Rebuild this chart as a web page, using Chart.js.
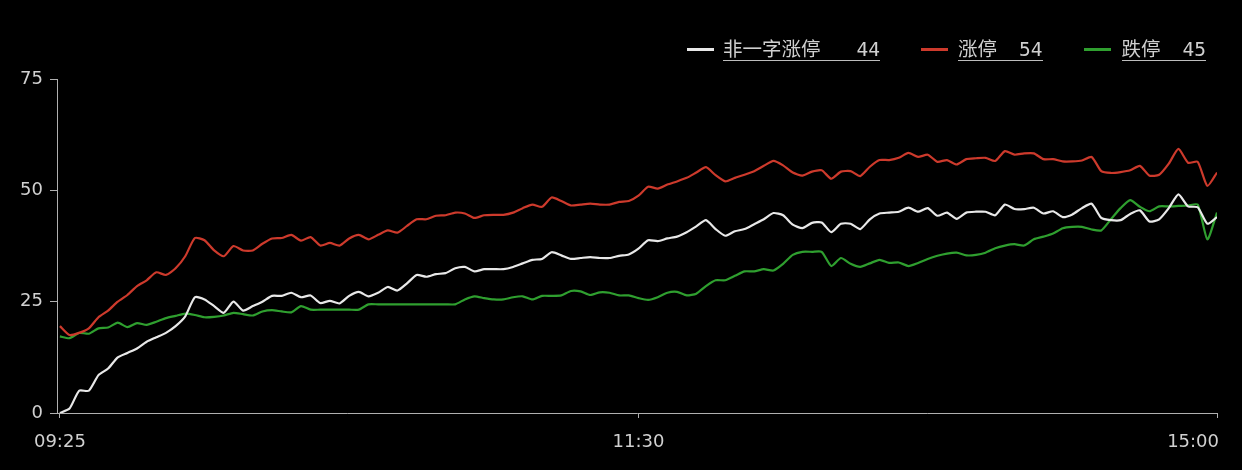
<!DOCTYPE html>
<html>
<head>
<meta charset="utf-8">
<script src="https://cdn.jsdelivr.net/npm/chart.js@4.4.1/dist/chart.umd.min.js"></script>
<style>
html,body{margin:0;padding:0;background:#000;}
#wrap{position:relative;width:1242px;height:470px;background:#000;overflow:hidden;}
#legend{position:absolute;left:687px;top:38px;display:flex;align-items:center;white-space:nowrap;}
.item{display:flex;align-items:center;}
.item:nth-child(1){margin-right:41px;}
.item:nth-child(2){margin-right:41px;}
.swatch{width:27px;height:3px;margin-right:9px;}
.item:nth-child(2) .swatch{margin-right:10px;}
.item:nth-child(3) .swatch{margin-right:11px;}
.txt{font-family:"Noto Sans CJK SC";font-size:19.5px;line-height:20px;color:#cfcfcf;border-bottom:1px solid #bdbdbd;display:flex;align-items:baseline;}
.num{font-family:"DejaVu Sans Mono";font-size:19.5px;margin-left:22px;}
.item:nth-child(1) .num{margin-left:36px;}
</style>
</head>
<body>
<div id="wrap">
  <canvas id="c" width="1242" height="470"></canvas>
  <div id="legend"></div>
</div>
<script>
// ---- data ----
const tickLabels = ['09:25', '11:30', '15:00'];
const tickIndex = [0, 60, 120];
const seriesNames = ['非一字涨停', '涨停', '跌停'];
const seriesColors = ['#e8e8e8', '#cd3a2c', '#2f9f2f'];

const nonYiZi = [
  0, 1, 5, 5, 8.5, 10, 12.5, 13.5, 14.5, 16, 17, 18, 19.5, 21.7, 26, 25.5, 24, 22.5, 25, 23, 24, 25, 26.3, 26.3, 27,
  26, 26.4, 24.7, 25.2, 24.6, 26.3, 27.2, 26.2, 27, 28.3, 27.5, 29.1, 31, 30.6, 31.2, 31.4, 32.5, 32.8, 31.8, 32.3, 32.3, 32.3, 32.8, 33.6, 34.4,
  34.6, 36.1, 35.4, 34.6, 34.8, 35, 34.8, 34.8, 35.3, 35.6, 36.9, 38.8, 38.6, 39.2, 39.6, 40.6, 41.9, 43.3, 41.3, 39.8, 40.8, 41.3, 42.4, 43.5,
  44.9, 44.4, 42.3, 41.5, 42.7, 42.8, 40.6, 42.5, 42.5, 41.3, 43.5, 44.8, 45, 45.2, 46.1, 45.2, 46, 44.3, 45, 43.6, 45, 45.2, 45.2, 44.4, 46.8,
  45.8, 45.8, 46.1, 44.8, 45.3, 44, 44.6, 46, 47, 43.8, 43.3, 43.3, 44.7, 45.5, 43, 43.5, 46, 49.1, 46.4, 46.2, 42.5, 44
];
const limitUp = [
  19.5, 17.5, 18, 19, 21.5, 23, 25, 26.5, 28.5, 29.8, 31.6, 31, 32.5, 35.2, 39.3, 38.8, 36.5, 35.2, 37.5, 36.5, 36.5, 38, 39.2, 39.3, 40,
  38.7, 39.5, 37.6, 38.2, 37.6, 39.2, 40, 39, 40, 41, 40.5, 42, 43.5, 43.5, 44.3, 44.4, 45, 44.8, 43.8, 44.4, 44.5, 44.5, 45, 46, 46.8,
  46.3, 48.4, 47.6, 46.6, 46.8, 47, 46.8, 46.8, 47.4, 47.6, 48.8, 50.8, 50.4, 51.3, 52, 52.8, 54, 55.2, 53.4, 52, 52.8, 53.5, 54.3, 55.5,
  56.6, 55.6, 54, 53.3, 54.2, 54.5, 52.6, 54.2, 54.3, 53.2, 55.3, 56.8, 56.8, 57.3, 58.4, 57.5, 58, 56.4, 56.8, 55.8, 57, 57.2, 57.3, 56.6, 58.8,
  58, 58.3, 58.3, 57, 57, 56.5, 56.5, 56.7, 57.5, 54.3, 53.9, 54.1, 54.5, 55.5, 53.3, 53.5, 56, 59.3, 56.2, 56.4, 51, 54
];
const limitDown = [
  17.2, 16.8, 18, 17.8, 19, 19.2, 20.3, 19.3, 20.2, 19.8, 20.5, 21.3, 21.8, 22.3, 22, 21.5, 21.6, 21.9, 22.5, 22.2, 21.9, 22.8, 23.1, 22.8, 22.6,
  24, 23.2, 23.2, 23.2, 23.2, 23.2, 23.2, 24.4, 24.4, 24.4, 24.4, 24.4, 24.4, 24.4, 24.4, 24.4, 24.4, 25.5, 26.2, 25.8, 25.5, 25.5, 26, 26.2, 25.5,
  26.3, 26.3, 26.4, 27.4, 27.3, 26.5, 27.1, 27, 26.4, 26.4, 25.8, 25.4, 26, 27, 27.2, 26.4, 26.8, 28.5, 29.8, 29.8, 30.8, 31.8, 31.8, 32.3,
  32, 33.5, 35.5, 36.2, 36.2, 36.2, 33, 34.8, 33.5, 32.8, 33.6, 34.4, 33.7, 33.8, 33, 33.7, 34.6, 35.3, 35.8, 36, 35.4, 35.5, 36, 37, 37.6,
  37.9, 37.6, 39, 39.6, 40.3, 41.5, 41.8, 41.8, 41.2, 41, 43.5, 46, 47.8, 46.3, 45.3, 46.4, 46.4, 46.5, 46.6, 46.8, 39, 45
];
const allSeries = [nonYiZi, limitUp, limitDown];

// ---- legend (HTML) ----
const legendEl = document.getElementById('legend');
seriesNames.forEach((name, k) => {
  const vals = allSeries[k];
  const item = document.createElement('div');
  item.className = 'item';
  item.innerHTML = '<div class="swatch" style="background:' + seriesColors[k] + '"></div>' +
    '<span class="txt"><span class="name">' + name + '</span><span class="num">' + vals[vals.length - 1] + '</span></span>';
  legendEl.appendChild(item);
});

// ---- x tick labels plugin ----
const xLabelPlugin = {
  id: 'xLabels',
  afterDraw(chart) {
    const s = chart.scales.x;
    const ctx = chart.ctx;
    ctx.save();
    ctx.font = '18px "DejaVu Sans"';
    ctx.fillStyle = '#d0d0d0';
    ctx.textBaseline = 'alphabetic';
    tickIndex.forEach((v, k) => {
      const px = s.getPixelForValue(v);
      if (k === tickIndex.length - 1) {
        ctx.textAlign = 'right';
        ctx.fillText(tickLabels[k], px + 2, 447);
      } else {
        ctx.textAlign = 'center';
        ctx.fillText(tickLabels[k], px, 447);
      }
    });
    ctx.restore();
  }
};

const axisColor = '#b0b0b0';
new Chart(document.getElementById('c'), {
  type: 'line',
  data: {
    datasets: allSeries.map((vals, k) => ({
      label: seriesNames[k],
      data: vals.map((v, i) => ({ x: i, y: v })),
      borderColor: seriesColors[k],
      backgroundColor: seriesColors[k],
      borderWidth: 2.2,
      pointRadius: 0,
      tension: 0.2,
      fill: false
    }))
  },
  options: {
    responsive: false,
    animation: false,
    layout: { padding: { top: 79, right: 25, left: 0, bottom: 0 } },
    plugins: { legend: { display: false }, tooltip: { enabled: false } },
    scales: {
      x: {
        type: 'linear',
        min: -0.3,
        max: tickIndex[tickIndex.length - 1],
        afterBuildTicks: s => { s.ticks = tickIndex.map(v => ({ value: v })); },
        afterFit: s => { s.height = 57; },
        ticks: { display: false },
        grid: { drawOnChartArea: false, drawTicks: true, tickLength: 5, color: axisColor, lineWidth: 1 },
        border: { display: true, color: axisColor, width: 1 }
      },
      y: {
        min: 0,
        max: 75,
        afterFit: s => { s.width = 57; },
        ticks: { stepSize: 25, color: '#d0d0d0', font: { family: 'DejaVu Sans', size: 18 }, padding: 7 },
        grid: { drawOnChartArea: false, drawTicks: true, tickLength: 7, color: axisColor, lineWidth: 1 },
        border: { display: true, color: axisColor, width: 1 }
      }
    }
  },
  plugins: [xLabelPlugin]
});
</script>
</body>
</html>
